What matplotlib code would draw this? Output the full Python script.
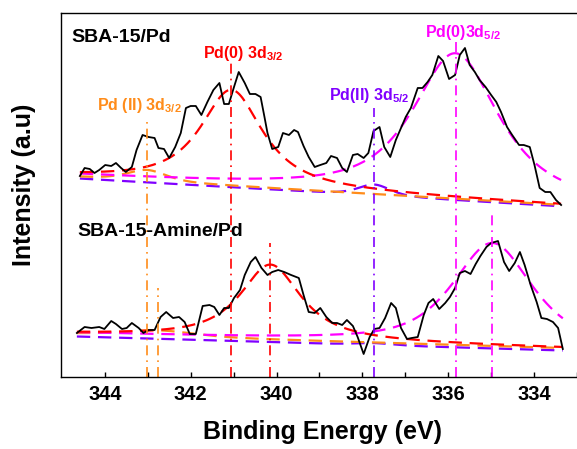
import numpy as np
import matplotlib
matplotlib.use('Agg')
import matplotlib.pyplot as plt

plt.rcParams['font.family'] = ['Liberation Sans', 'DejaVu Sans']
plt.rcParams['font.weight'] = 'bold'
plt.rcParams['mathtext.fontset'] = 'custom'
plt.rcParams['mathtext.rm'] = 'Liberation Sans:bold'
plt.rcParams['mathtext.bf'] = 'Liberation Sans:bold'
plt.rcParams['mathtext.default'] = 'rm'

# ---- measured spectra (binding energy in eV, intensity in a.u.) ----
be_top = [344.58, 344.47, 344.35, 344.24, 344.13, 343.99, 343.85, 343.74, 343.62, 343.51,
          343.37, 343.26, 343.12, 342.98, 342.84, 342.75, 342.62, 342.50, 342.36, 342.23,
          342.11, 342.00, 341.88, 341.75, 341.61, 341.47, 341.33, 341.22, 341.11, 340.99,
          340.88, 340.74, 340.62, 340.49, 340.37, 340.28, 340.21, 340.10, 339.96, 339.85,
          339.71, 339.59, 339.50, 339.37, 339.25, 339.11, 338.98, 338.84, 338.73, 338.59,
          338.47, 338.36, 338.22, 338.11, 337.97, 337.86, 337.74, 337.60, 337.49, 337.35,
          337.22, 337.10, 336.99, 336.87, 336.71, 336.60, 336.48, 336.37, 336.23, 336.12,
          335.98, 335.84, 335.73, 335.61, 335.50, 335.38, 335.27, 335.13, 335.00, 334.88,
          334.77, 334.63, 334.51, 334.35, 334.24, 334.10, 333.99, 333.87, 333.74, 333.62,
          333.49, 333.37]
int_top = [201, 209, 208, 204, 207, 212, 211, 214, 209, 205,
           210, 227, 242, 240, 239, 229, 228, 219, 230, 244,
           269, 271, 271, 262, 275, 287, 294, 273, 273, 290,
           305, 294, 283, 283, 280, 260, 244, 228, 230, 244,
           242, 247, 245, 231, 220, 210, 212, 214, 221, 219,
           209, 205, 222, 223, 219, 224, 246, 250, 230, 220,
           237, 249, 260, 269, 289, 289, 295, 302, 321, 316,
           298, 302, 322, 329, 312, 305, 297, 290, 282, 275,
           265, 250, 242, 232, 232, 230, 212, 189, 185, 185,
           177, 172]

be_bot = [344.65, 344.47, 344.31, 344.13, 344.01, 343.85, 343.74, 343.60, 343.49, 343.37,
          343.21, 343.10, 342.98, 342.84, 342.70, 342.57, 342.41, 342.27, 342.14, 342.02,
          341.88, 341.72, 341.56, 341.45, 341.33, 341.22, 341.11, 340.99, 340.85, 340.74,
          340.60, 340.49, 340.35, 340.21, 340.10, 339.96, 339.82, 339.66, 339.48, 339.37,
          339.25, 339.11, 338.98, 338.84, 338.70, 338.59, 338.47, 338.36, 338.22, 338.11,
          337.97, 337.83, 337.72, 337.60, 337.47, 337.33, 337.22, 337.10, 336.96, 336.85,
          336.71, 336.57, 336.46, 336.35, 336.21, 336.07, 335.96, 335.84, 335.73, 335.61,
          335.48, 335.36, 335.25, 335.11, 335.00, 334.84, 334.70, 334.58, 334.45, 334.33,
          334.22, 334.08, 333.94, 333.83, 333.70, 333.56, 333.44, 333.33]
int_bot = [44, 50, 49, 50, 48, 56, 53, 48, 49, 54,
           49, 44, 47, 47, 60, 65, 59, 60, 55, 43,
           43, 71, 72, 70, 62, 69, 69, 79, 87, 102,
           115, 120, 109, 102, 105, 107, 105, 102, 99, 82,
           65, 64, 69, 60, 54, 54, 52, 57, 51, 40,
           23, 40, 48, 49, 59, 74, 69, 49, 38, 39,
           40, 62, 74, 78, 68, 74, 80, 89, 104, 106,
           103, 113, 121, 130, 134, 136, 115, 106, 114, 125,
           112, 92, 75, 59, 58, 55, 49, 28]

# ---- fitted components: [Pd(II) 3d3/2, Pd(0) 3d3/2, Pd(II) 3d5/2, Pd(0) 3d5/2] ----
comp_colors = ['#FF8C1A', '#FF0000', '#8000FF', '#FF00FF']
center_top = [343.02, 341.05, 337.72, 335.83]
height_top = [11, 96, 11, 144]
fwhm_top = [1.1, 1.74, 0.9, 2.38]
lmix_top = [0.5, 0.9, 0.5, 0.8]
offset_top = [0.0, 0.0, -1.5, 1.5]
bg_top_be = [344.6, 333.3]
bg_top_int = [200, 172]

center_bot = [342.75, 340.14, 337.72, 334.97]
height_bot = [6, 75, 2, 102]
fwhm_bot = [2.0, 1.7, 1.0, 2.2]
lmix_bot = [0.5, 0.9, 0.5, 0.7]
offset_bot = [1.0, 1.0, -1.5, 2.0]
bg_bot_be = [344.65, 333.33]
bg_bot_int = [42, 28]

# marker lines: position, top of line
vline_top_x = [343.02, 341.05, 337.72, 335.83]
vline_top_y = [255, 314, 269, 335]
vline_bot_x = [342.75, 340.14, 334.97]
vline_bot_y = [89, 134, 162]
vline_bot_c = ['#FF8C1A', '#FF0000', '#FF00FF']


def pvoigt(x, c, h, f, eta):
    d2 = (x - c) ** 2 / f ** 2
    return h * (eta / (1 + 4 * d2) + (1 - eta) * np.exp(-4 * np.log(2) * d2))


fig = plt.figure(figsize=(5.77, 4.49), dpi=100)
ax = fig.add_axes([61 / 577, 1 - 377 / 449, 1 - 61 / 577, 364 / 449])

for be, inten, cen, hgt, fw, mix, off, bgx, bgy in [
        (be_top, int_top, center_top, height_top, fwhm_top, lmix_top, offset_top, bg_top_be, bg_top_int),
        (be_bot, int_bot, center_bot, height_bot, fwhm_bot, lmix_bot, offset_bot, bg_bot_be, bg_bot_int)]:
    xs = np.linspace(max(be), min(be), 300)
    bg = np.interp(xs, bgx[::-1], bgy[::-1])
    for i in [2, 0, 3, 1]:
        ys = bg + off[i] + pvoigt(xs, cen[i], hgt[i], fw[i], mix[i])
        ax.plot(xs, ys, color=comp_colors[i], lw=1.6, dashes=(6, 3.5))
    ax.plot(be, inten, color='black', lw=1.3)

for x, y, c in zip(vline_top_x, vline_top_y, comp_colors):
    ax.plot([x, x], [0, y], color=c, lw=1.2, ls=(0, (6, 3, 1, 3)))
for x, y, c in zip(vline_bot_x, vline_bot_y, vline_bot_c):
    ax.plot([x, x], [0, y], color=c, lw=1.2, ls=(0, (6, 3, 1, 3)))

ax.text(344.77, 335, 'SBA-15/Pd', fontsize=14, fontweight='bold', va='baseline')
ax.text(344.65, 141, 'SBA-15-Amine/Pd', fontsize=14, fontweight='bold', va='baseline')
ax.text(341.72, 319, r'Pd(0) 3d$_{3/2}$', fontsize=11.5, color='#FF0000', va='baseline')
ax.text(344.19, 267, r'Pd (II) 3d$_{3/2}$', fontsize=11.5, color='#FF8C1A', va='baseline')
ax.text(338.77, 277, r'Pd(II) 3d$_{5/2}$', fontsize=11.5, color='#8000FF', va='baseline')
ax.text(336.53, 340, r'Pd(0)3d$_{5/2}$', fontsize=11.5, color='#FF00FF', va='baseline')

ax.set_xlim(345.02, 333.21)
ax.set_ylim(0, 364)
ax.set_xticks([344, 342, 340, 338, 336, 334])
ax.set_xticks([343, 341, 339, 337, 335, 333], minor=True)
ax.tick_params(axis='x', which='both', direction='in', length=3.5, width=1, pad=5.5,
               labelsize=14.5, top=False)
ax.set_yticks([])
ax.spines['right'].set_visible(False)
for s in ['left', 'top', 'bottom']:
    ax.spines[s].set_linewidth(1.0)

ax.set_xlabel('Binding Energy (eV)', fontsize=18, fontweight='bold')
ax.xaxis.set_label_coords(0.506, -0.118)
ax.set_ylabel('Intensity (a.u)', fontsize=18, fontweight='bold')
ax.yaxis.set_label_coords(-0.048, 0.527)

fig.savefig('out.png', dpi=100)
